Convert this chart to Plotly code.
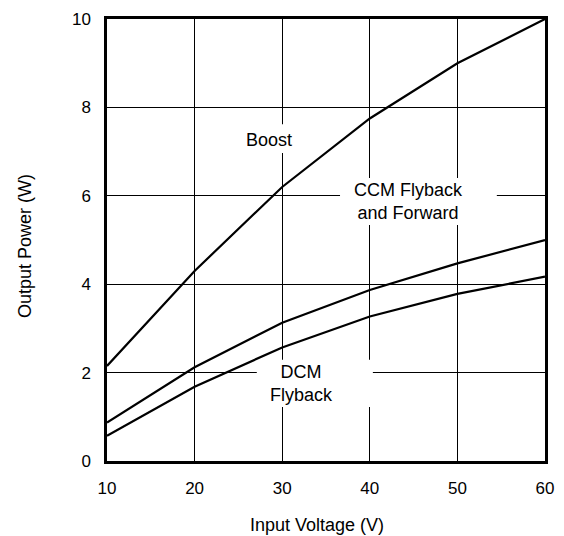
import plotly.graph_objects as go

voltage = [10, 20, 30, 40, 50, 60]
boost = [2.15, 4.3, 6.2, 7.75, 9.0, 10.0]
ccm_flyback_forward = [0.87, 2.12, 3.13, 3.87, 4.47, 5.0]
dcm_flyback = [0.57, 1.68, 2.57, 3.27, 3.78, 4.17]

x_ticks = [10, 20, 30, 40, 50, 60]
y_ticks = [0, 2, 4, 6, 8, 10]

FONT = "Liberation Sans, Arial, sans-serif"

fig = go.Figure()
for name, ys in [("Boost", boost), ("CCM Flyback and Forward", ccm_flyback_forward), ("DCM Flyback", dcm_flyback)]:
    fig.add_trace(go.Scatter(x=voltage, y=ys, mode="lines", name=name,
                             line=dict(color="black", width=2.2), showlegend=False))

# white label backgrounds (hide grid behind labels)
label_boxes = [
    dict(x0=25.1, x1=31.8, y0=6.97, y1=7.62),
    dict(x0=36.6, x1=54.5, y0=5.34, y1=6.40),
    dict(x0=27.1, x1=40.35, y0=1.22, y1=2.29),
]
for b in label_boxes:
    fig.add_shape(type="rect", xref="x", yref="y", layer="between",
                  fillcolor="white", line=dict(width=0), **b)

labels = [
    ("Boost", 28.5, 7.27),
    ("CCM Flyback<br>and Forward", 44.4, 5.86),
    ("DCM<br>Flyback", 32.2, 1.75),
]
for txt, x, y in labels:
    fig.add_annotation(text=txt, x=x, y=y, xref="x", yref="y", showarrow=False,
                       xanchor="center", yanchor="middle",
                       font=dict(family=FONT, size=18, color="black"), align="center")

fig.add_annotation(text="Input Voltage (V)", xref="paper", yref="paper", x=0.48, y=0,
                   xanchor="center", yanchor="middle",
                   yshift=-64, showarrow=False, font=dict(family=FONT, size=18, color="black"))
fig.add_annotation(text="Output Power (W)", xref="paper", yref="paper", x=0, y=0.5,
                   xanchor="center", yanchor="middle",
                   xshift=-82, yshift=-6, textangle=-90, showarrow=False,
                   font=dict(family=FONT, size=18, color="black"))

axis_common = dict(showgrid=True, gridcolor="black", gridwidth=1, showline=True,
                   linecolor="black", linewidth=2.5, mirror=True, zeroline=False,
                   ticks="", ticklabeloverflow="allow",
                   tickfont=dict(family=FONT, size=17, color="black"))
fig.update_xaxes(range=[10, 60], tickvals=x_ticks, ticklabelstandoff=10, **axis_common)
fig.update_yaxes(range=[0, 10], tickvals=y_ticks, ticklabelstandoff=10, **axis_common)

fig.update_layout(width=564, height=536, margin=dict(l=107, r=10, t=19, b=75),
                  plot_bgcolor="white", paper_bgcolor="white",
                  font=dict(family=FONT, color="black"))

fig.write_html(
    "out.html", config={"displayModeBar": False},
    post_script="document.body.style.margin='0';document.body.style.overflow='hidden';",
)
